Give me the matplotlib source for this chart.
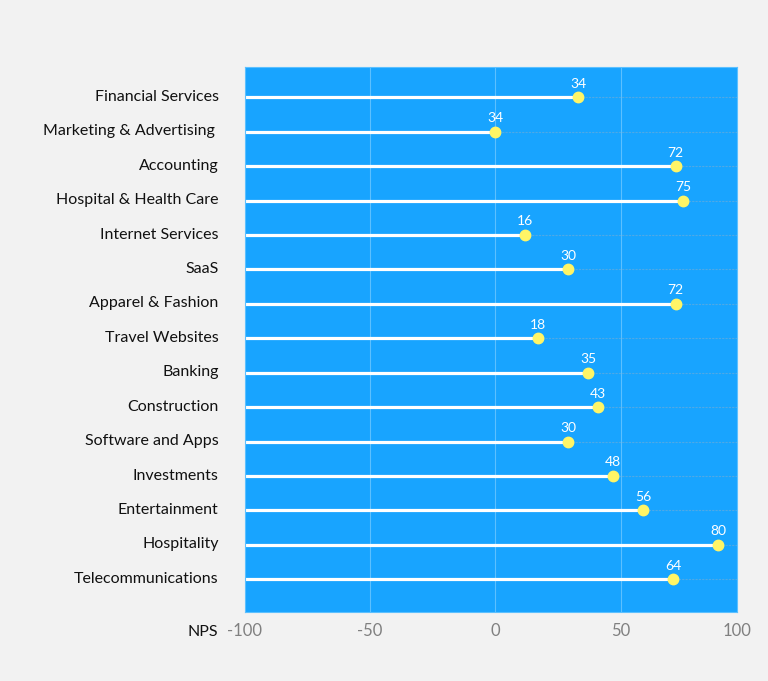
import matplotlib
matplotlib.use("Agg")
import matplotlib.pyplot as plt
import matplotlib.transforms as mtransforms

categories = ["Financial Services", "Marketing & Advertising ", "Accounting",
              "Hospital & Health Care", "Internet Services", "SaaS",
              "Apparel & Fashion", "Travel Websites", "Banking", "Construction",
              "Software and Apps", "Investments", "Entertainment", "Hospitality",
              "Telecommunications"]
positions = [33, 0, 72, 75, 12, 29, 72, 17, 37, 41, 29, 47, 59, 89, 71]
labels = [34, 34, 72, 75, 16, 30, 72, 18, 35, 43, 30, 48, 56, 80, 64]
xtick_labels = ["-100", "-50", "0", "50", "100"]

plt.rcParams['font.family'] = ['Lato', 'DejaVu Sans']

fig = plt.figure(figsize=(7.68, 6.81), dpi=100, facecolor="#f2f2f2")
ax = fig.add_axes([0.319, 0.1013, 0.6406, 0.8003])
blue = "#18a4ff"
ax.set_facecolor(blue)

ys = list(range(len(categories)))
xmin, xmax = -100, 96.5
ax.set_xlim(xmin, xmax)
ax.set_ylim(14.95, -0.88)

for x in [-50, 0, 50]:
    ax.axvline(x, color="#5cc0ff", lw=0.8, zorder=1)
for y in ys:
    ax.axhline(y, color="#4fa9e6", lw=0.8, ls=(0, (2, 1)), zorder=1)

ax.hlines(ys, xmin, positions, color="white", lw=2.3, zorder=2)
ax.plot(positions, ys, "o", color="#fff566", markersize=7.5, zorder=3)
for x, y, l in zip(positions, ys, labels):
    ax.annotate(str(l), (x, y), xytext=(0, 5.5), textcoords="offset points",
                ha="center", va="bottom", color="white", fontsize=10, zorder=4)

ax.set_yticks(ys)
ax.set_yticklabels(categories, fontsize=11.5, color="#111111")
ax.tick_params(axis="y", length=0, pad=19)
shift = mtransforms.ScaledTranslation(0, 2 / 100, fig.dpi_scale_trans)
for t in ax.get_yticklabels():
    t.set_transform(t.get_transform() + shift)

ax.set_xticks([-100, -50, 0, 50, xmax])
ax.set_xticklabels(xtick_labels, fontsize=12, color="#808080")
ax.tick_params(axis="x", length=0, pad=8)
ax.text(-0.055, -0.037, "NPS", transform=ax.transAxes, ha="right", va="center",
        fontsize=11.5, color="#111111")

for s in ax.spines.values():
    s.set_color("#5cc0ff")
    s.set_linewidth(0.8)

fig.savefig("out.png", dpi=100, facecolor=fig.get_facecolor())
